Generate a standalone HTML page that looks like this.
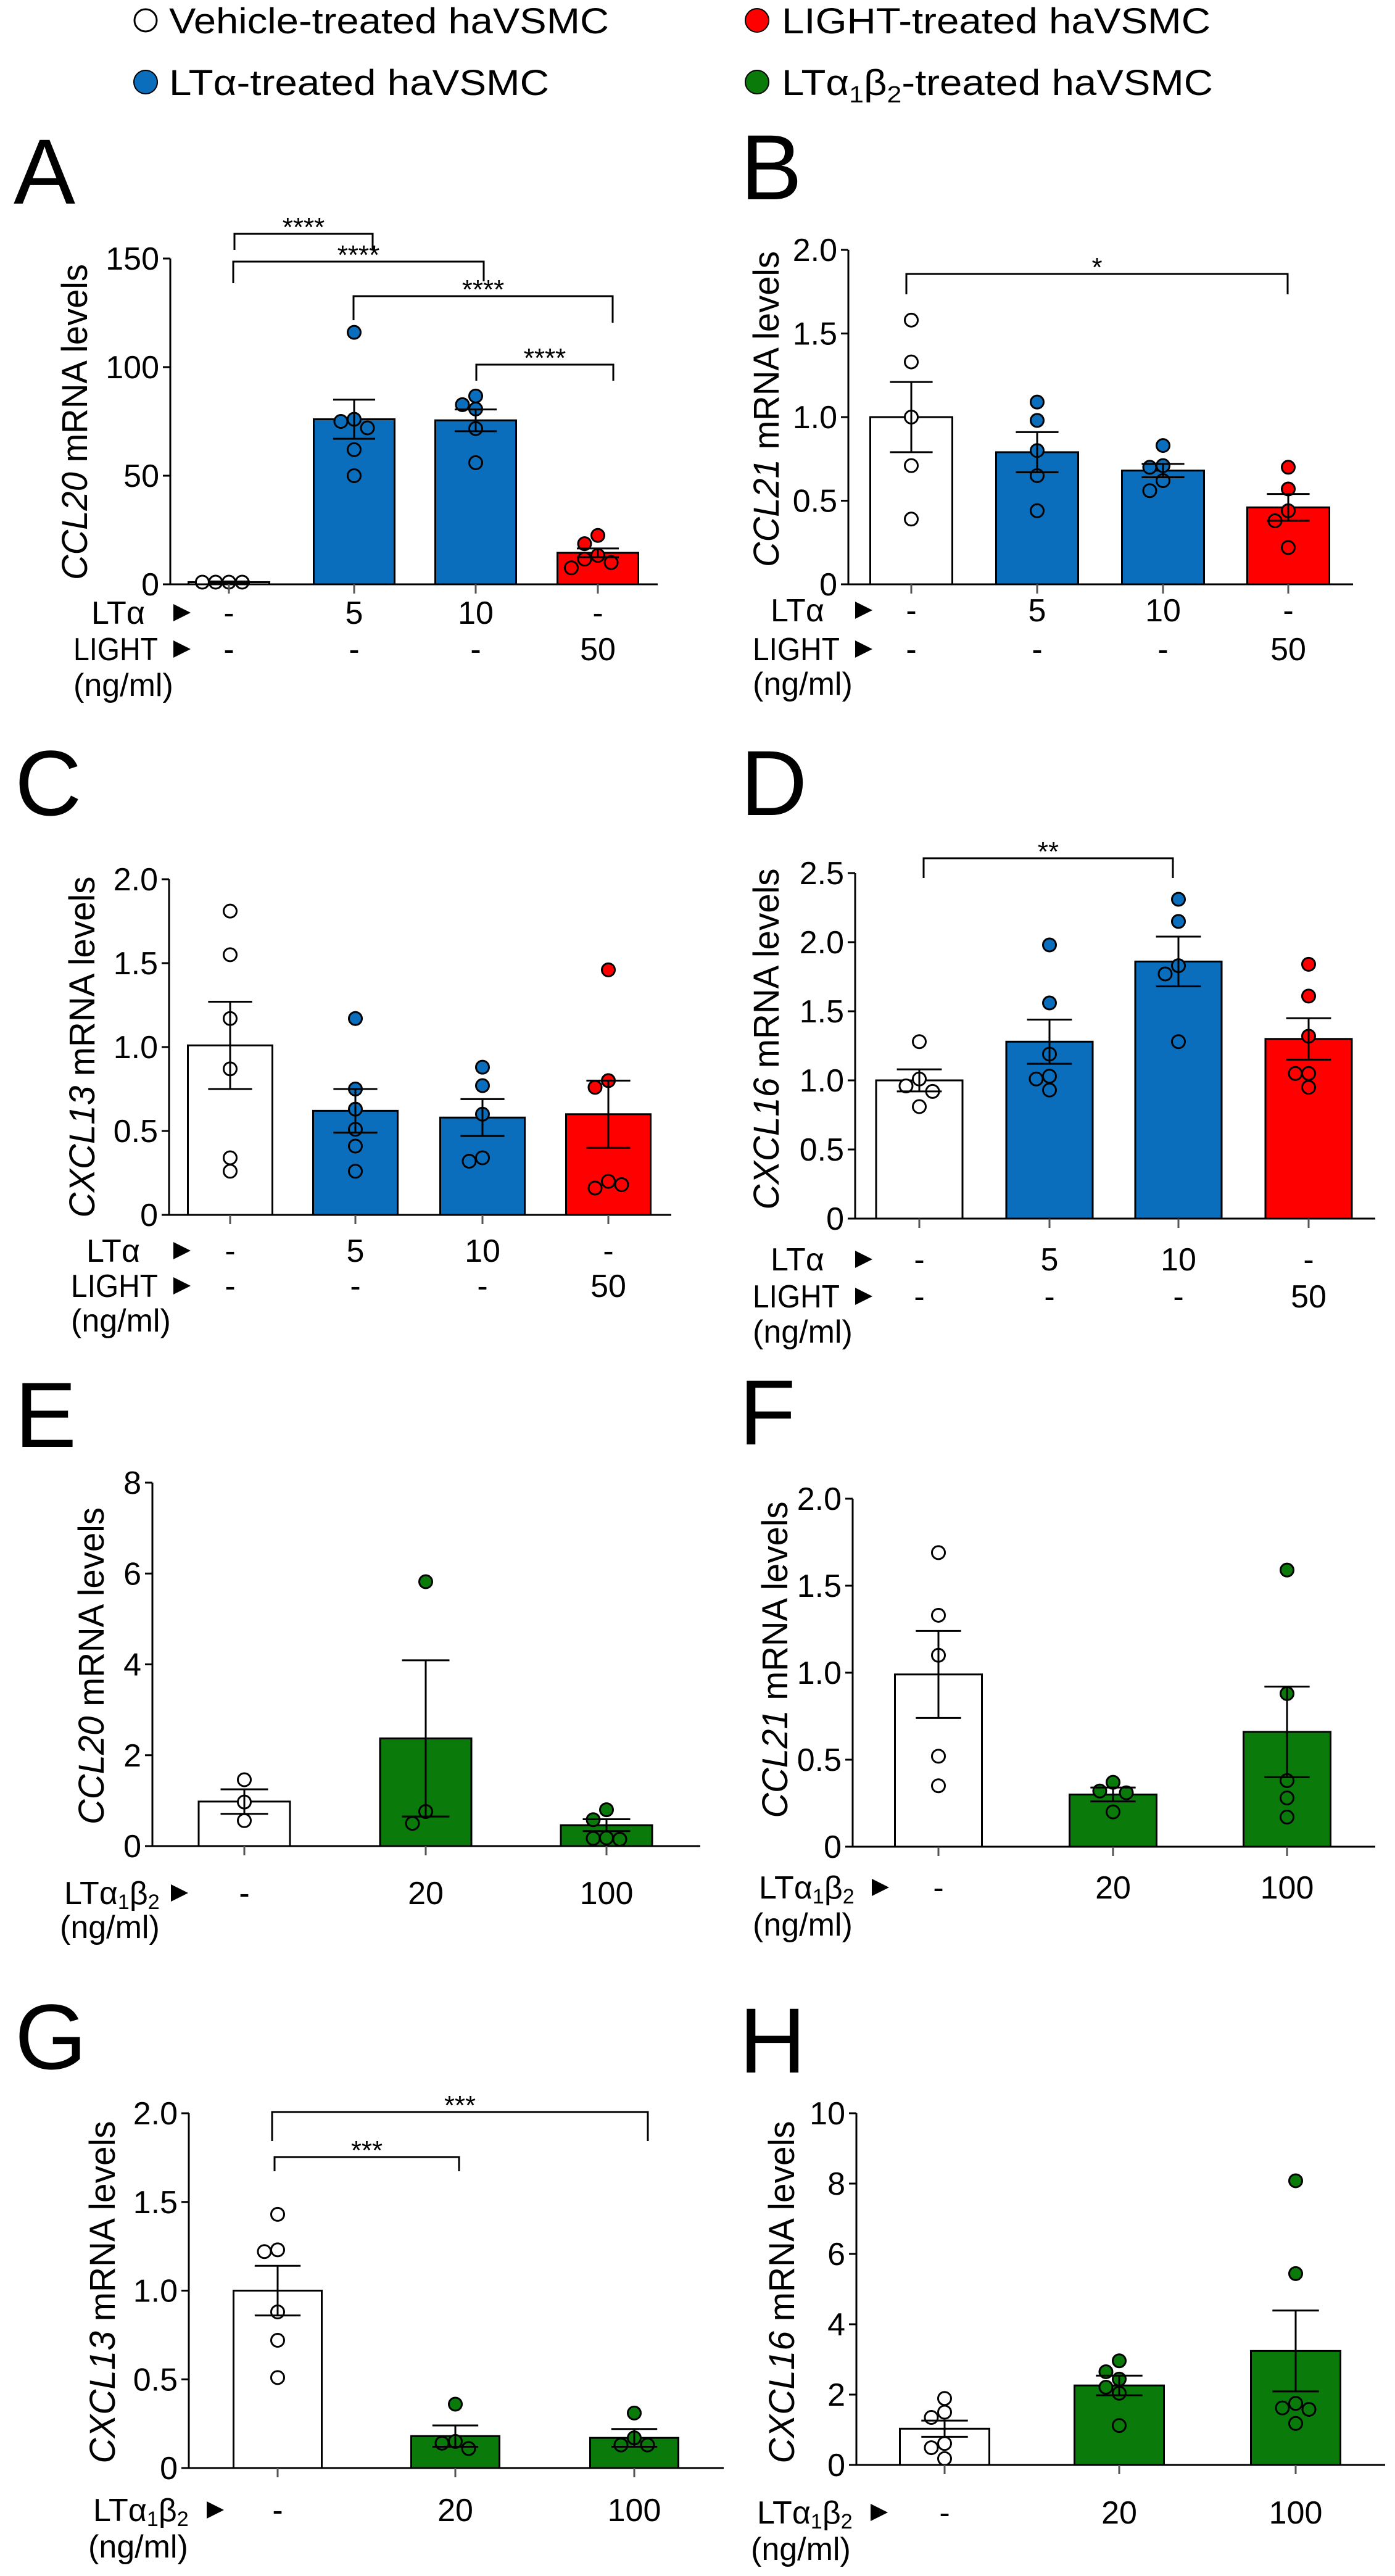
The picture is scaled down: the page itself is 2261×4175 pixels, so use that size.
<!DOCTYPE html>
<html><head><meta charset="utf-8">
<style>
html,body{margin:0;padding:0;background:#fff;}
svg{display:block;font-family:"Liberation Sans",Arial,sans-serif;}
</style></head>
<body>
<svg id="fig" width="2261" height="4175" viewBox="0 0 2261 4175" xmlns="http://www.w3.org/2000/svg">
  <g>
    <g>
      <circle cx="236" cy="33" r="18" fill="#fff" stroke="#000" stroke-width="3"/>
      <text x="274" y="54" font-size="58" textLength="713" lengthAdjust="spacingAndGlyphs">Vehicle-treated haVSMC</text>
    </g>
    <g>
      <circle cx="236" cy="133" r="19" fill="#0a6ebd" stroke="#000" stroke-width="2"/>
      <text x="274" y="154" font-size="58" textLength="616" lengthAdjust="spacingAndGlyphs">LTα-treated haVSMC</text>
    </g>
    <g>
      <circle cx="1227" cy="33" r="19" fill="#ff0000" stroke="#000" stroke-width="2"/>
      <text x="1267" y="54" font-size="58" textLength="695" lengthAdjust="spacingAndGlyphs">LIGHT-treated haVSMC</text>
    </g>
    <g>
      <circle cx="1227" cy="133" r="19" fill="#0a7a0a" stroke="#000" stroke-width="2"/>
      <text x="1267" y="154" font-size="58" textLength="699" lengthAdjust="spacingAndGlyphs">LTα<tspan font-size="38" dy="12">1</tspan><tspan dy="-12">β</tspan><tspan font-size="38" dy="12">2</tspan><tspan dy="-12">-treated haVSMC</tspan></text>
    </g>
  </g>
</svg>
<script>
// ---------- DATA ----------
const catsAD = ['Vehicle','LTα 5','LTα 10','LIGHT 50'];
const ltaRow = ['-','5','10','-'];
const lightRow = ['-','-','-','50'];
const catsEH = ['Vehicle','LTα1β2 20','LTα1β2 100'];
const lt12Row = ['-','20','100'];

const A_means = [1, 76, 75.5, 14.5];
const A_sems = [0.3, 9, 5, 2];
const A_points = [[1,1,1,1],[116,76,75,72,62,50],[86.7,82.7,80.7,71.7,56],[22.5,18.7,13.3,11.6,10,7.6]];
const A_ticks = [0,50,100,150];
const A_tickLabels = ['0','50','100','150'];

const B_means = [1.0, 0.79, 0.68, 0.46];
const B_sems = [0.21, 0.12, 0.04, 0.08];
const B_points = [[1.58,1.33,1.0,0.71,0.39],[1.09,0.98,0.80,0.65,0.44],[0.83,0.71,0.70,0.62,0.56],[0.70,0.57,0.44,0.38,0.22]];
const B_ticks = [0,0.5,1,1.5,2];
const B_tickLabels = ['0','0.5','1.0','1.5','2.0'];

const C_means = [1.01, 0.62, 0.58, 0.60];
const C_sems = [0.26, 0.13, 0.11, 0.20];
const C_points = [[1.81,1.55,1.17,0.87,0.34,0.26],[1.17,0.75,0.63,0.51,0.41,0.26],[0.88,0.77,0.60,0.34,0.32],[1.46,0.80,0.76,0.20,0.16,0.18]];
const C_ticks = [0,0.5,1,1.5,2];
const C_tickLabels = ['0','0.5','1.0','1.5','2.0'];

const D_means = [1.0, 1.28, 1.86, 1.30];
const D_sems = [0.08, 0.16, 0.18, 0.15];
const D_points = [[1.28,1.01,0.96,0.92,0.81],[1.98,1.56,1.19,1.03,1.01,0.93],[2.31,2.15,1.83,1.77,1.28],[1.84,1.61,1.32,1.05,1.05,0.95]];
const D_ticks = [0,0.5,1,1.5,2,2.5];
const D_tickLabels = ['0','0.5','1.0','1.5','2.0','2.5'];

const E_means = [0.98, 2.37, 0.46];
const E_sems = [0.27, 1.72, 0.13];
const E_points = [[1.46,0.97,0.56],[5.82,0.76,0.50],[0.80,0.58,0.18,0.17,0.15]];
const E_ticks = [0,2,4,6,8];
const E_tickLabels = ['0','2','4','6','8'];

const F_means = [0.99, 0.30, 0.66];
const F_sems = [0.25, 0.04, 0.26];
const F_points = [[1.69,1.33,1.10,0.52,0.35],[0.37,0.32,0.31,0.20],[1.59,0.88,0.38,0.28,0.17]];
const F_ticks = [0,0.5,1,1.5,2];
const F_tickLabels = ['0','0.5','1.0','1.5','2.0'];

const G_means = [1.0, 0.18, 0.17];
const G_sems = [0.14, 0.06, 0.05];
const G_points = [[1.43,1.23,1.22,0.88,0.72,0.51],[0.36,0.15,0.14,0.11],[0.31,0.17,0.13,0.13]];
const G_ticks = [0,0.5,1,1.5,2];
const G_tickLabels = ['0','0.5','1.0','1.5','2.0'];

const H_means = [1.03, 2.26, 3.24];
const H_sems = [0.23, 0.28, 1.15];
const H_points = [[1.89,1.50,1.35,0.61,0.49,0.18],[2.96,2.65,2.44,2.21,2.04,1.12],[8.08,5.44,1.75,1.62,1.58,1.18]];
const H_ticks = [0,2,4,6,8,10];
const H_tickLabels = ['0','2','4','6','8','10'];

// ---------- LAYOUT ----------
const WHITE='#ffffff', BLUE='#0a6ebd', RED='#ff0000', GREEN='#0a7a0a';
const panels = [
 {id:'A', gene:'CCL20', means:A_means, sems:A_sems, pts:A_points, ticks:A_ticks, tl:A_tickLabels, yMax:150,
  ax:276, xEnd:1066, y0:947, yTop:419, centers:[371,574,771,969], bw:131, cols:[WHITE,BLUE,BLUE,RED],
  letter:[22,330], title:[121,684,512], rows:'AD', rowY:[993,1052,1110], rowX:[148,119], tri:281,
  brackets:[{a:380,b:604,y:379,dl:405,dr:405,t:'****'},{a:378,b:784,y:424,dl:459,dr:456,t:'****'},{a:573,b:993,y:480,dl:519,dr:523,t:'****'},{a:772,b:994,y:591,dl:617,dr:617,t:'****'}]},
 {id:'B', gene:'CCL21', means:B_means, sems:B_sems, pts:B_points, ticks:B_ticks, tl:B_tickLabels, yMax:2,
  ax:1375, xEnd:2193, y0:947, yTop:405, centers:[1477,1681,1885,2088], bw:133, cols:[WHITE,BLUE,BLUE,RED],
  letter:[1200,323], title:[1242,663,512], rows:'AD', rowY:[989,1052,1108], rowX:[1249,1220], tri:1386,
  brackets:[{a:1469,b:2087,y:444,dl:477,dr:477,t:'*'}]},
 {id:'C', gene:'CXCL13', means:C_means, sems:C_sems, pts:C_points, ticks:C_ticks, tl:C_tickLabels, yMax:2,
  ax:274, xEnd:1088, y0:1969, yTop:1425, centers:[373,576,782,986], bw:137, cols:[WHITE,BLUE,BLUE,RED],
  letter:[24,1321], title:[133,1697,553], rows:'AD', rowY:[2027,2084,2140], rowX:[140,115], tri:281, brackets:[]},
 {id:'D', gene:'CXCL16', means:D_means, sems:D_sems, pts:D_points, ticks:D_ticks, tl:D_tickLabels, yMax:2.5,
  ax:1386, xEnd:2229, y0:1975, yTop:1415, centers:[1490,1701,1910,2121], bw:140, cols:[WHITE,BLUE,BLUE,RED],
  letter:[1200,1321], title:[1242,1684,553], rows:'AD', rowY:[2041,2101,2158], rowX:[1249,1220], tri:1386,
  brackets:[{a:1497,b:1901,y:1391,dl:1423,dr:1423,t:'**'}]},
 {id:'E', gene:'CCL20', means:E_means, sems:E_sems, pts:E_points, ticks:E_ticks, tl:E_tickLabels, yMax:8,
  ax:247, xEnd:1135, y0:2992, yTop:2403, centers:[396,690,983], bw:148, cols:[WHITE,GREEN,GREEN],
  letter:[24,2345], title:[148,2700,514], rows:'EH', rowY:[3068,3123], rowX:[104,97], tri:277, brackets:[]},
 {id:'F', gene:'CCL21', means:F_means, sems:F_sems, pts:F_points, ticks:F_ticks, tl:F_tickLabels, yMax:2,
  ax:1382, xEnd:2229, y0:2993, yTop:2429, centers:[1521,1804,2086], bw:141, cols:[WHITE,GREEN,GREEN],
  letter:[1198,2341], title:[1256,2690,513], rows:'EH', rowY:[3059,3119], rowX:[1230,1220], tri:1413, brackets:[]},
 {id:'G', gene:'CXCL13', means:G_means, sems:G_sems, pts:G_points, ticks:G_ticks, tl:G_tickLabels, yMax:2,
  ax:306, xEnd:1173, y0:4000, yTop:3425, centers:[450,738,1028], bw:143, cols:[WHITE,GREEN,GREEN],
  letter:[24,3353], title:[166,3715,555], rows:'EH', rowY:[4068,4127], rowX:[151,143], tri:335,
  brackets:[{a:441,b:1050,y:3423,dl:3470,dr:3470,t:'***'},{a:445,b:744,y:3496,dl:3519,dr:3519,t:'***'}]},
 {id:'H', gene:'CXCL16', means:H_means, sems:H_sems, pts:H_points, ticks:H_ticks, tl:H_tickLabels, yMax:10,
  ax:1388, xEnd:2245, y0:3995, yTop:3425, centers:[1531,1814,2100], bw:145, cols:[WHITE,GREEN,GREEN],
  letter:[1198,3359], title:[1267,3715,555], rows:'EH', rowY:[4072,4131], rowX:[1227,1217], tri:1411, brackets:[]}
];

// ---------- DRAW ----------
const NS='http://www.w3.org/2000/svg';
const svg=document.getElementById('fig');
const FS=52;
function mk(tag, attrs, parent){
  const e=document.createElementNS(NS,tag);
  for(const k in attrs) e.setAttribute(k, attrs[k]);
  (parent||svg).appendChild(e);
  return e;
}
function yS(p,v){ return p.y0 - v/p.yMax*(p.y0-p.yTop); }
function txt(parent, x, y, s, size, anchor){
  const t=mk('text',{x:x,y:y,'font-size':size,'text-anchor':anchor||'start'},parent);
  t.textContent=s;
  return t;
}

panels.forEach(p=>{
  const g=mk('g',{});
  
  

  const L=txt(g,p.letter[0],p.letter[1],p.id,150);
  
  

  const tt=mk('text',{x:0,y:0,'font-size':58,'text-anchor':'middle',textLength:p.title[2],lengthAdjust:'spacingAndGlyphs',
    transform:'translate('+(p.title[0]+20)+','+p.title[1]+') rotate(-90)'},g);
  
  
  const it=mk('tspan',{'font-style':'italic'},tt); it.textContent=p.gene;
  const rest=mk('tspan',{},tt); rest.textContent=' mRNA levels';

  p.means.forEach((m,i)=>{
    const top=yS(p,m);
    const r=mk('rect',{x:p.centers[i]-p.bw/2,y:top,width:p.bw,height:Math.max(0,p.y0-top),fill:p.cols[i],stroke:'#000','stroke-width':3},g);
    
    
  });

  const R=10.5;
  p.pts.forEach((arr,i)=>{
    const placed=[];
    arr.forEach(v=>{
      const py=yS(p,v);
      const cands=[0,-1,1,-2,2,-3,3];
      let px=p.centers[i];
      for(const c of cands){
        const cx=p.centers[i]+c*R*2.05;
        if(placed.every(q=>Math.hypot(q[0]-cx,q[1]-py)>=2*R)){px=cx;break;}
      }
      placed.push([px,py]);
      const c=mk('circle',{cx:px,cy:py,r:R,fill:p.cols[i],stroke:'#000','stroke-width':3},g);
      
      
    });
  });

  p.means.forEach((m,i)=>{
    const x=p.centers[i], hi=yS(p,m+p.sems[i]), lo=yS(p,Math.max(0,m-p.sems[i])), cw=p.bw*0.26;
    const e=mk('path',{d:'M'+x+' '+lo+'V'+hi+'M'+(x-cw)+' '+hi+'H'+(x+cw)+'M'+(x-cw)+' '+lo+'H'+(x+cw),stroke:'#000','stroke-width':3,fill:'none'},g);
    
    
  });

  const ya=mk('path',{d:'M'+p.ax+' '+p.yTop+'V'+p.y0,stroke:'#000','stroke-width':3,fill:'none'},g);
  
  
  const xa=mk('path',{d:'M'+(p.ax-12)+' '+p.y0+'H'+p.xEnd,stroke:'#000','stroke-width':3,fill:'none'},g);
  
  
  p.ticks.forEach((v,k)=>{
    const y=yS(p,v);
    mk('path',{d:'M'+(p.ax-12)+' '+y+'H'+p.ax,stroke:'#000','stroke-width':3},g);
    const t=txt(g,p.ax-18,y+18,p.tl[k],FS,'end');
    
    
  });
  p.centers.forEach(c=>{ mk('path',{d:'M'+c+' '+p.y0+'v15',stroke:'#555','stroke-width':3},g); });

  p.brackets.forEach(b=>{
    const br=mk('path',{d:'M'+b.a+' '+b.dl+'V'+b.y+'H'+b.b+'V'+b.dr,stroke:'#000','stroke-width':3,fill:'none'},g);
    
    
    const st=txt(g,(b.a+b.b)/2,b.y+4,b.t,44,'middle');
    
    
  });

  const tri=(x,y)=>mk('path',{d:'M'+x+' '+(y-14)+'L'+(x+28)+' '+y+'L'+x+' '+(y+14)+'Z',fill:'#000'},g);
  if(p.rows==='AD'){
    const l1=txt(g,p.rowX[0],p.rowY[0]+18,'LTα',FS);
    
    
    tri(p.tri,p.rowY[0]);
    const l2=txt(g,p.rowX[1],p.rowY[1]+18,'LIGHT',FS);
    l2.setAttribute('textLength',p.tri-p.rowX[1]-25);
    l2.setAttribute('lengthAdjust','spacingAndGlyphs');
    
    
    tri(p.tri,p.rowY[1]);
    const l3=txt(g,p.rowX[1],p.rowY[2]+18,'(ng/ml)',FS);
    
    
    p.centers.forEach((c,i)=>{
      const a=txt(g,c,p.rowY[0]+18,ltaRow[i],FS,'middle');
      
      
      const b=txt(g,c,p.rowY[1]+18,lightRow[i],FS,'middle');
      
      
    });
  } else {
    const l1=mk('text',{x:p.rowX[0],y:p.rowY[0]+18,'font-size':FS},g);
    
    
    l1.innerHTML='LTα<tspan font-size="34" dy="8">1</tspan><tspan dy="-8">β</tspan><tspan font-size="34" dy="8">2</tspan>';
    tri(p.tri,p.rowY[0]);
    const l3=txt(g,p.rowX[1],p.rowY[1]+18,'(ng/ml)',FS);
    
    
    p.centers.forEach((c,i)=>{
      const a=txt(g,c,p.rowY[0]+18,lt12Row[i],FS,'middle');
      
      
    });
  }
});
</script>
</body></html>
